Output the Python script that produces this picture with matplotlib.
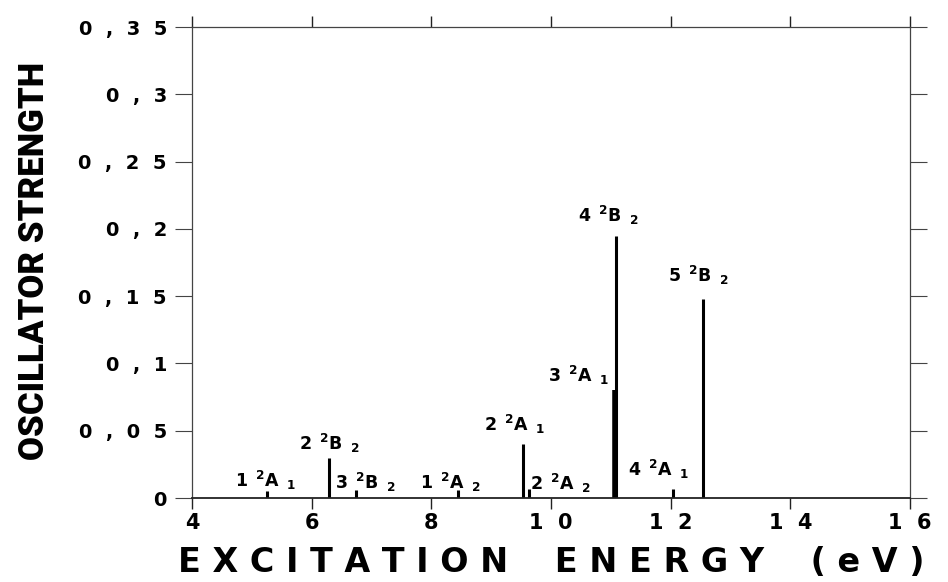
import numpy as np
import matplotlib.pyplot as plt
from matplotlib.ticker import FuncFormatter, MultipleLocator

# transitions: energy (eV), oscillator strength, state label parts
energies = [5.25, 6.29, 6.74, 8.44, 9.53, 9.64, 11.07, 11.09, 12.03, 12.54]
strengths = [0.005, 0.030, 0.006, 0.006, 0.040, 0.007, 0.080, 0.195, 0.007, 0.148]
root = [1, 2, 3, 1, 2, 2, 3, 4, 4, 5]
sym = ['A', 'B', 'B', 'A', 'A', 'A', 'A', 'B', 'A', 'B']
irrep = [1, 2, 2, 2, 1, 2, 1, 2, 1, 2]

# label offsets from the top of each line, in pixels
label_dx = [-1, 0, 10, -7, -8, 31, -36, -8, -14, -5]
label_dy = [-1, 3, -4, -4, 8, -6, 3, 9, 8, 12]
line_w = [2.2, 2.2, 2.2, 2.2, 2.2, 2.2, 4.0, 2.2, 2.2, 2.2]

plt.rcParams['mathtext.fontset'] = 'dejavusans'
plt.rcParams['font.family'] = 'DejaVu Sans'

fig = plt.figure(figsize=(9.48, 5.82), dpi=100)
ax = fig.add_axes([0.2025, 0.1443, 0.7575, 0.8093])

ax.vlines(energies, 0, strengths, colors='k', linewidth=line_w)

for e, s, n, a, g, dx, dy in zip(energies, strengths, root, sym, irrep, label_dx, label_dy):
    lab = r'$\mathbf{%d\ \,{}^{2}%s\ \,{}_{%d}}$' % (n, a, g)
    ax.annotate(lab, (e, s), xytext=(dx, dy), textcoords='offset pixels',
                ha='center', va='bottom', fontsize=12.5)

ax.set_xlim(4, 16)
ax.set_ylim(0, 0.35)
ax.xaxis.set_major_locator(MultipleLocator(2))
ax.yaxis.set_major_locator(MultipleLocator(0.05))

def spaced_y(v, pos):
    s = ('%.2f' % v).rstrip('0').rstrip('.').replace('.', ',')
    return '  '.join(s)

def spaced_x(v, pos):
    return '  '.join('%d' % round(v))

ax.yaxis.set_major_formatter(FuncFormatter(spaced_y))
ax.xaxis.set_major_formatter(FuncFormatter(spaced_x))

ax.tick_params(axis='y', which='major', direction='out', length=12, width=0.8,
               color='#444444', left=True, right=True, pad=6,
               labelsize=14)
ax.tick_params(axis='x', which='major', direction='out', length=8, width=1.0,
               color='#222222', top=True, bottom=True, pad=3, labelsize=15)
for lab in ax.get_xticklabels() + ax.get_yticklabels():
    lab.set_fontweight('bold')

for side in ['left', 'right', 'top']:
    ax.spines[side].set_linewidth(0.9)
    ax.spines[side].set_color('#444444')
ax.spines['bottom'].set_linewidth(1.3)
ax.spines['bottom'].set_color('#222222')

xlabel = '    '.join(' '.join(w) for w in ['EXCITATION', 'ENERGY', '(eV)'])
fig.text(0.582, 0.017, xlabel, ha='center', va='baseline',
         fontsize=24, fontweight='bold')
fig.text(0.036, 0.552, 'OSCILLATOR STRENGTH', rotation=90, ha='center', va='center',
         fontsize=25, fontweight='black', family=['Roboto', 'DejaVu Sans'])

fig.savefig('out.png', dpi=100)
